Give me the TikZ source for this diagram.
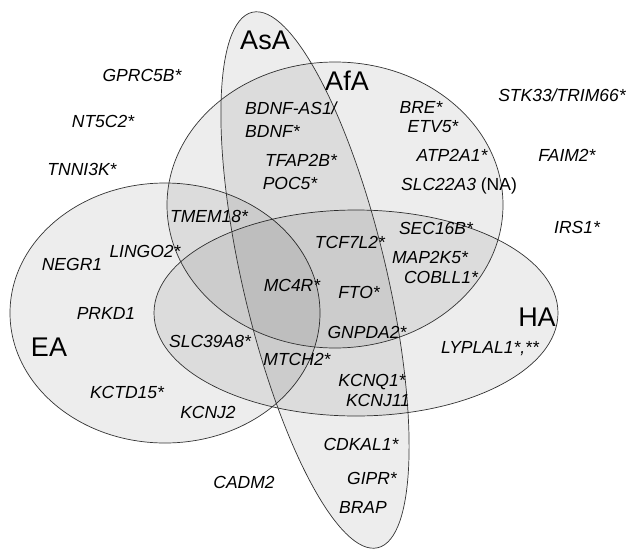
\documentclass[tikz,border=0pt]{standalone}
\usepackage{fontspec}
\setmainfont{Liberation Sans}
\newcommand{\genefont}{\fontsize{17.5}{20}\selectfont\itshape}
\newcommand{\setfont}{\fontsize{27}{30}\selectfont}
\tikzset{
  setshape/.style={draw=black!80,fill=black,fill opacity=0.07,line width=0.7pt},
  gene/.style={font=\genefont,inner sep=0pt},
  setname/.style={font=\setfont,inner sep=0pt}
}
\begin{document}
\begin{tikzpicture}[x=1pt,y=-1pt]
  \useasboundingbox (0,0) rectangle (629,549);

  % four ancestry sets
  \filldraw[setshape] (165,313) ellipse [x radius=155,y radius=130];
  \filldraw[setshape] (356,313) ellipse [x radius=202,y radius=103];
  \filldraw[setshape] (335,205) ellipse [x radius=168,y radius=143];
  \filldraw[setshape,rotate around={13.2:(315,280)}] (315,280) ellipse [x radius=72,y radius=275];

  % set names
  \node[setname] (asa) at (265,40) {AsA};
  \node[setname] (afa) at (347,81) {AfA};
  \node[setname] (ea) at (49,347) {EA};
  \node[setname] (ha) at (537,317) {HA};

  % genes outside every set
  \node[gene] (gprc5b) at (142,75) {GPRC5B*};
  \node[gene] (nt5c2) at (103,121) {NT5C2*};
  \node[gene] (tnni3k) at (82,169) {TNNI3K*};
  \node[gene] (stk33) at (562,95) {STK33/TRIM66*};
  \node[gene] (faim2) at (567,155) {FAIM2*};
  \node[gene] (irs1) at (577,227) {IRS1*};
  \node[gene] (cadm2) at (244,482) {CADM2};

  % AfA and AsA
  \node[gene,anchor=west] (bdnfas) at (245,108) {BDNF-AS1/};
  \node[gene,anchor=west] (bdnf) at (245,131) {BDNF*};
  \node[gene] (tfap2b) at (301,160) {TFAP2B*};
  \node[gene] (poc5) at (290,183) {POC5*};

  % AfA only
  \node[gene] (bre) at (421,107) {BRE*};
  \node[gene] (etv5) at (433,127) {ETV5*};
  \node[gene] (atp2a1) at (452,155) {ATP2A1*};
  \node[gene] (slc22a3) at (459,186) {SLC22A3 \textup{(NA)}};

  % AfA and HA
  \node[gene] (sec16b) at (436,228) {SEC16B*};
  \node[gene] (map2k5) at (430,257) {MAP2K5*};
  \node[gene] (cobll1) at (441,277) {COBLL1*};

  % EA side
  \node[gene] (tmem18) at (209,216) {TMEM18*};
  \node[gene] (lingo2) at (145,251) {LINGO2*};
  \node[gene] (negr1) at (72,264) {NEGR1};
  \node[gene] (prkd1) at (106,313) {PRKD1};
  \node[gene] (kctd15) at (127,392) {KCTD15*};
  \node[gene] (kcnj2) at (208,412) {KCNJ2};
  \node[gene] (slc39a8) at (210,341) {SLC39A8*};
  \node[gene] (mtch2) at (297,359) {MTCH2*};

  % centre
  \node[gene] (tcf7l2) at (350,242) {TCF7L2*};
  \node[gene] (mc4r) at (292,285) {MC4R*};
  \node[gene] (fto) at (359,292) {FTO*};
  \node[gene] (gnpda2) at (367,332) {GNPDA2*};

  % HA side
  \node[gene] (lyplal1) at (490,349) {LYPLAL1*,**};
  \node[gene] (kcnq1) at (372,382) {KCNQ1*};
  \node[gene] (kcnj11) at (378,400) {KCNJ11};

  % AsA only
  \node[gene] (cdkal1) at (361,444) {CDKAL1*};
  \node[gene] (gipr) at (372,478) {GIPR*};
  \node[gene] (brap) at (363,507) {BRAP};
\end{tikzpicture}
\end{document}
